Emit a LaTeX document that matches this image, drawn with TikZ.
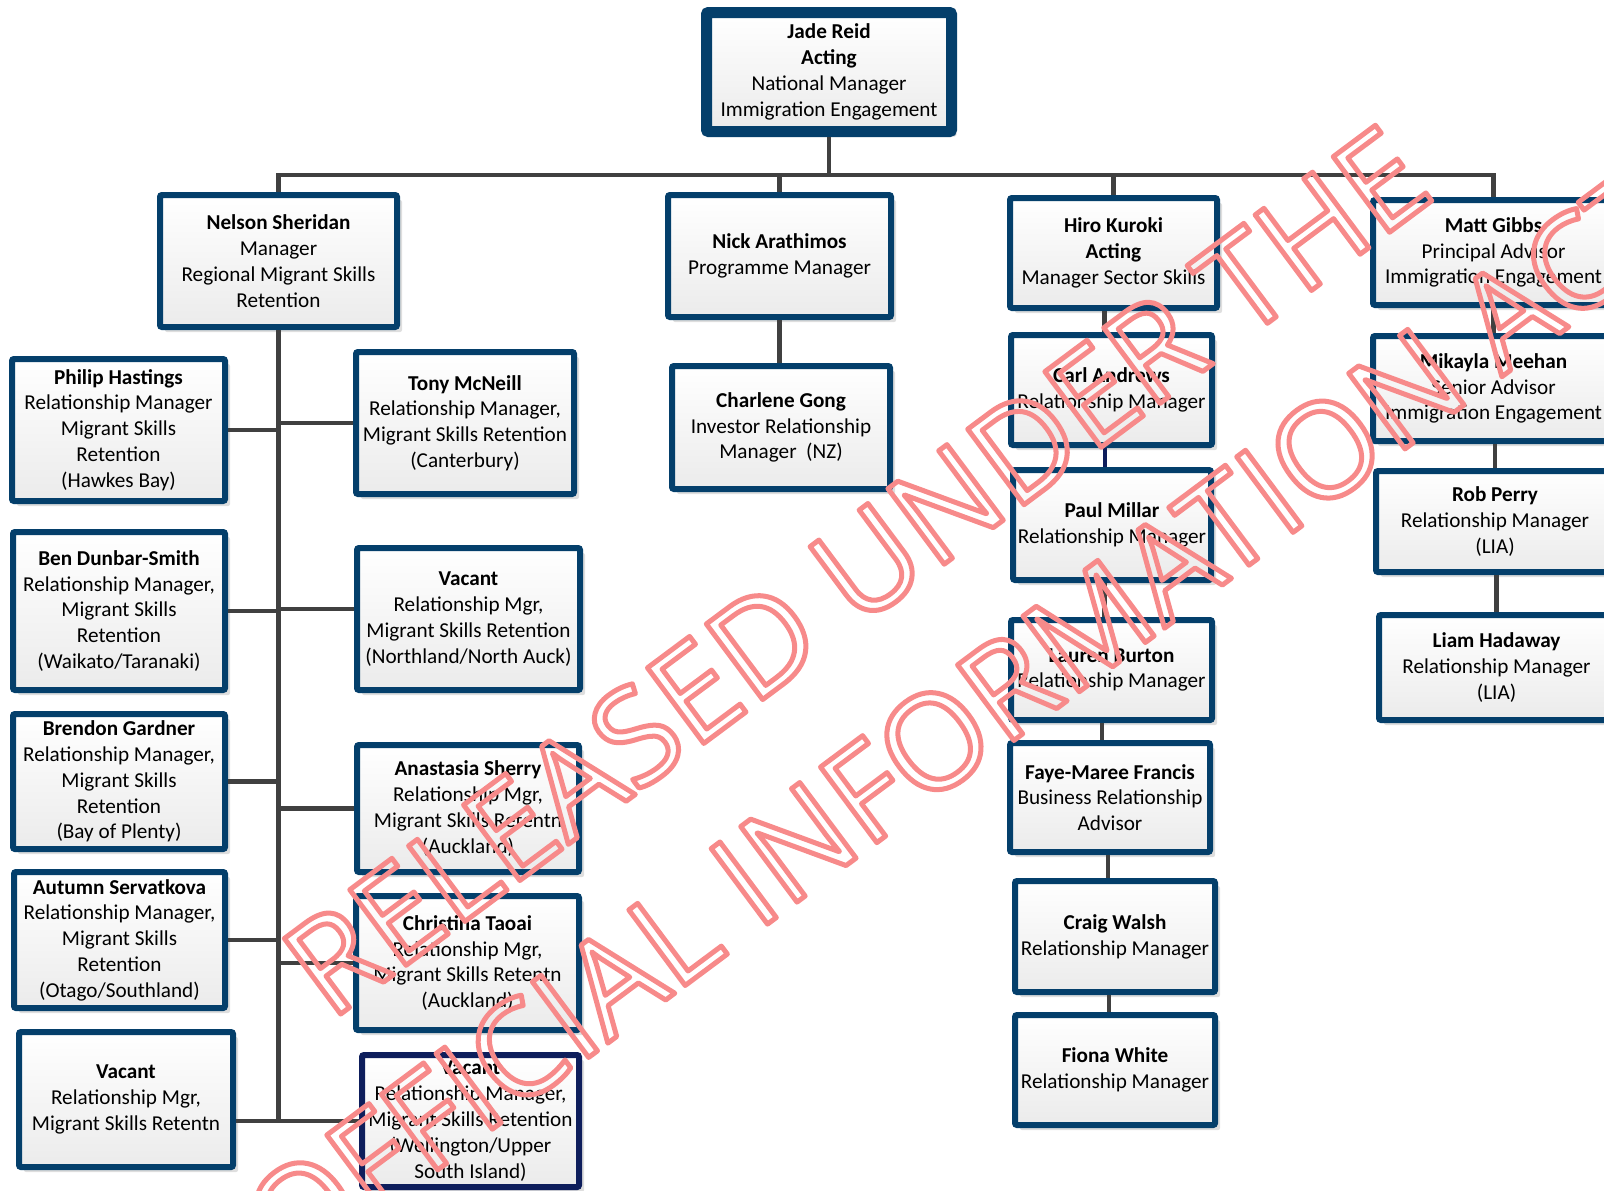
\documentclass[tikz,border=0pt]{standalone}
\usepackage{fontspec}
\setmainfont{Carlito}
\newfontfamily\wmfont{Open Sans}
\usepackage{tikz}
\usetikzlibrary{shadows,calc}
\definecolor{boxblue}{RGB}{4,63,107}
\definecolor{boxnavy}{RGB}{14,30,92}
\definecolor{linkgrey}{RGB}{64,64,64}
\definecolor{boxgrey}{RGB}{235,235,235}
\definecolor{wmred}{RGB}{247,138,138}
\newcommand\outlined[1]{\special{pdf:literal direct 1 Tr 2.5 w 1 j}#1\special{pdf:literal direct 0 Tr}}

\begin{document}
\begin{tikzpicture}[x=0.5pt,y=-0.5pt,
  staff node/.style={draw=boxblue,line width=3pt,rounded corners=1pt,top color=white,bottom color=boxgrey,
    drop shadow={shadow xshift=2.5pt,shadow yshift=-2.5pt,fill=black!13,opacity=1},
    align=center,inner sep=0pt,font=\fontsize{10.6}{12.9}\selectfont},
  wh/.style 2 args={minimum width={0.5*#1pt-3pt},minimum height={0.5*#2pt-3pt}},
  link/.style={draw=linkgrey,line width=2.25pt},
  wm node/.style={rotate=36.7,anchor=base west,text=wmred,inner sep=0pt,font=\wmfont\fontsize{66}{66}\selectfont}]
\clip[use as bounding box] (0,0) rectangle (1604,1190);
\begin{scope}[every node/.style={staff node}]
\node[wh={256}{130},line width=5.5pt,minimum width=122.5pt,minimum height=59.5pt] (jade) at (829,72) {\textbf{Jade Reid}\\\textbf{Acting}\\National Manager\\Immigration Engagement};
\node[wh={243}{138}] (nelson) at (278.5,261) {\textbf{Nelson Sheridan}\\Manager\\Regional Migrant Skills\\Retention};
\node[wh={229}{128}] (nick) at (779.5,256) {\textbf{Nick Arathimos}\\Programme Manager};
\node[wh={213}{116}] (hiro) at (1113.5,253) {\textbf{Hiro Kuroki}\\\textbf{Acting}\\Manager Sector Skills};
\node[wh={247}{111}] (matt) at (1493.5,252.5) {\textbf{Matt Gibbs}\\Principal Advisor\\Immigration Engagement};
\node[wh={219}{148}] (philip) at (118.5,430) {\textbf{Philip Hastings}\\Relationship Manager\\Migrant Skills\\Retention\\(Hawkes Bay)};
\node[wh={224}{148}] (tony) at (465,423) {\textbf{Tony McNeill}\\Relationship Manager,\\Migrant Skills Retention\\(Canterbury)};
\node[wh={224}{129}] (charlene) at (781,427.5) {\textbf{Charlene Gong}\\Investor Relationship\\Manager\ \ (NZ)};
\node[wh={207}{116}] (carl) at (1111.5,390) {\textbf{Carl Andrews}\\Relationship Manager};
\node[wh={247}{111}] (mikayla) at (1493.5,388.5) {\textbf{Mikayla Meehan}\\Senior Advisor\\Immigration Engagement};
\node[wh={218}{164}] (ben) at (119,611) {\textbf{Ben Dunbar-Smith}\\Relationship Manager,\\Migrant Skills\\Retention\\(Waikato/Taranaki)};
\node[wh={229}{148}] (vacantN) at (468.5,619) {\textbf{Vacant}\\Relationship Mgr,\\Migrant Skills Retention\\(Northland/North Auck)};
\node[wh={204}{116}] (paul) at (1112,525) {\textbf{Paul Millar}\\Relationship Manager};
\node[wh={244}{107}] (rob) at (1495,521.5) {\textbf{Rob Perry}\\Relationship Manager\\(LIA)};
\node[wh={218}{141}] (brendon) at (119,781.5) {\textbf{Brendon Gardner}\\Relationship Manager,\\Migrant Skills\\Retention\\(Bay of Plenty)};
\node[wh={228}{133}] (anastasia) at (468,808.5) {\textbf{Anastasia Sherry}\\Relationship Mgr,\\Migrant Skills Retentn\\(Auckland)};
\node[wh={207}{106}] (lauren) at (1111.5,670) {\textbf{Lauren Burton}\\Relationship Manager};
\node[wh={241}{111}] (liam) at (1496.5,667.5) {\textbf{Liam Hadaway}\\Relationship Manager\\(LIA)};
\node[wh={206}{115}] (faye) at (1110,797.5) {\textbf{Faye-Maree Francis}\\Business Relationship\\Advisor};
\node[wh={217}{142}] (autumn) at (119.5,940) {\textbf{Autumn Servatkova}\\Relationship Manager,\\Migrant Skills\\Retention\\(Otago/Southland)};
\node[wh={229}{140}] (christina) at (467.5,963) {\textbf{Christina Taoai}\\Relationship Mgr,\\Migrant Skills Retentn\\(Auckland)};
\node[wh={206}{117}] (craig) at (1115,936.5) {\textbf{Craig Walsh}\\Relationship Manager};
\node[wh={206}{116}] (fiona) at (1115,1070) {\textbf{Fiona White}\\Relationship Manager};
\node[wh={220}{141}] (vacantW) at (126,1099.5) {\textbf{Vacant}\\Relationship Mgr,\\Migrant Skills Retentn};
\node[wh={223}{138},draw=boxnavy] (vacantS) at (470.5,1121) {\textbf{Vacant}\\Relationship Manager,\\Migrant Skills Retention\\(Wellington/Upper\\South Island)};
\end{scope}
\begin{scope}
\coordinate (bus) at (278.5,175);
\draw[link] (jade.south) -- (jade.south |- bus);
\draw[link] (nelson.north) |- (matt.north |- bus) -- (matt.north);
\draw[link] (nick.north) -- (nick.north |- bus);
\draw[link] (hiro.north) -- (hiro.north |- bus);
\draw[link] (nelson.south) -- (nelson.south |- vacantS.west);
\draw[link] (philip.east) -- (philip.east -| nelson.south);
\draw[link] (tony.west) -- (tony.west -| nelson.south);
\draw[link] (ben.east) -- (ben.east -| nelson.south);
\draw[link] ([yshift=5pt]vacantN.west) -- ([yshift=5pt]vacantN.west -| nelson.south);
\draw[link] (brendon.east) -- (brendon.east -| nelson.south);
\draw[link] (anastasia.west) -- (anastasia.west -| nelson.south);
\draw[link] (autumn.east) -- (autumn.east -| nelson.south);
\draw[link] (christina.west) -- (christina.west -| nelson.south);
\draw[link] (vacantW.east |- vacantS.west) -- (vacantS.west);
\draw[link] (nick.south) -- (nick.south |- charlene.north);
\draw[link] ([xshift=-3.5pt]carl.north) -- ([xshift=-3.5pt]carl.north |- hiro.south);
\draw[link,draw=boxnavy] ([xshift=-3.5pt]paul.north) -- ([xshift=-3.5pt]paul.north |- carl.south);
\draw[link] ([xshift=-3.5pt]lauren.north) -- ([xshift=-3.5pt]lauren.north |- paul.south);
\draw[link] ([xshift=-4pt]faye.north) -- ([xshift=-4pt]faye.north |- lauren.south);
\draw[link] ([xshift=-3.5pt]craig.north) -- ([xshift=-3.5pt]craig.north |- faye.south);
\draw[link] ([xshift=-3pt]fiona.north) -- ([xshift=-3pt]fiona.north |- craig.south);
\draw[link] (mikayla.north) -- (mikayla.north |- matt.south);
\draw[link] (rob.north) -- (rob.north |- mikayla.south);
\draw[link] (liam.north) -- (liam.north |- rob.south);
\end{scope}
\begin{scope}[every node/.style={wm node}]
\node (wmA) at (330,1022) {\outlined{RELEASED UNDER THE}};
\node (wmB) at (290,1280) {\outlined{OFFICIAL INFORMATION ACT}};
\end{scope}
\end{tikzpicture}
\end{document}
